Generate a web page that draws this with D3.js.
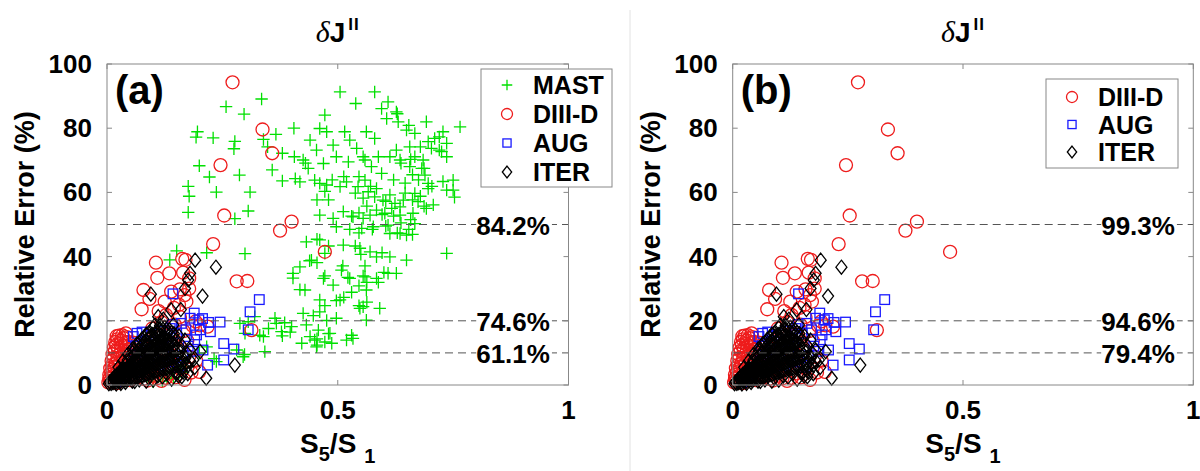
<!DOCTYPE html>
<html><head><meta charset="utf-8">
<script src="https://cdn.jsdelivr.net/npm/d3@7"></script>
<style>
body{margin:0;background:#fff}
svg{display:block}
text{font-family:"Liberation Sans",Arial,Helvetica,sans-serif;font-weight:bold;fill:#000}
</style>
</head><body>
<svg id="c" width="1200" height="471"></svg>
<script>
const categories = ["MAST","DIII-D","AUG","ITER"];
const mast = [
[0.335,89.1],[0.258,86.7],[0.297,84.4],[0.196,78.9],[0.193,77.2],[0.23,77],[0.277,75.9],[0.275,73.6],[0.339,76.5],[0.366,78.1],[0.405,80],
[0.348,74.2],[0.38,72.2],[0.406,71.1],[0.2,68.3],[0.222,64.8],[0.287,65.4],[0.358,67],[0.38,63.6],[0.408,64.3],[0.176,61.9],[0.176,53.8],
[0.237,60.1],[0.31,60.1],[0.306,54.2],[0.277,51.8],[0.151,41.8],[0.216,41.2],[0.299,40.9],[0.403,34.8],[0.403,33.3],[0.418,29.7],
[0.367,19.2],[0.35,17.6],[0.339,15.1],[0.32,21.3],[0.306,19.7],[0.288,19.2],[0.378,16.6],[0.4,18.2],[0.342,10.4],[0.295,8.8],[0.281,10.9],
[0.237,7.3],[0.216,11.9],[0.2,9.9],[0.172,5.7],[0.158,4.1],[0.144,2.1],[0.299,16.1],[0.136,39],[0.385,19.4],[0.364,20.8],[0.397,16.5],
[0.38,15.3],[0.331,15.5],[0.298,9.5],[0.232,8.2],[0.13,2],[0.12,1.2],[0.14,4.2],[0.16,6.2],[0.1,1],[0.178,58.8],
[0.505,91.3],[0.58,91.3],[0.539,87.7],[0.609,88.2],[0.595,86.1],[0.627,85.1],[0.472,84.1],[0.631,82],[0.606,83],[0.692,82],[0.765,80.4],
[0.461,79.9],[0.476,78.9],[0.515,78.9],[0.562,78.9],[0.58,76.8],[0.526,76.3],[0.649,79.4],[0.667,78.4],[0.728,78.9],[0.71,76.8],[0.696,75.8],
[0.736,75.3],[0.725,72.7],[0.703,73.7],[0.736,71.1],[0.44,76.3],[0.454,73.2],[0.49,74.7],[0.541,73.7],[0.497,71.1],[0.588,71.1],[0.627,73.2],
[0.656,74.2],[0.667,71.1],[0.685,70.1],[0.425,70.1],[0.436,67.5],[0.469,69],[0.523,69.5],[0.559,70.1],[0.573,68],[0.595,65.9],[0.635,70.1],
[0.656,68],[0.682,67.5],[0.689,65.4],[0.696,62.8],[0.736,60.7],[0.75,60.7],[0.75,63.8],[0.418,63.3],[0.45,63.8],[0.461,62.8],[0.476,62.3],
[0.505,61.8],[0.519,63.3],[0.544,61.8],[0.559,63.8],[0.566,60.2],[0.584,61.2],[0.58,58.6],[0.598,57.6],[0.613,59.2],[0.624,56.6],[0.635,55.5],
[0.642,57.6],[0.617,55],[0.667,59.7],[0.674,57.1],[0.696,61.2],[0.692,55],[0.707,56.1],[0.584,54.5],[0.602,53.5],[0.635,52.9],[0.663,53.5],
[0.57,52.9],[0.555,51.9],[0.533,52.4],[0.512,54],[0.49,51.9],[0.461,52.9],[0.497,49.3],[0.552,48.8],[0.577,49.3],[0.609,49.8],[0.635,47.2],
[0.649,46.7],[0.613,47.2],[0.667,50.3],[0.432,44.6],[0.461,45.2],[0.512,43.6],[0.548,42.6],[0.57,41.5],[0.584,39.9],[0.613,39.9],[0.736,41],
[0.649,38.9],[0.472,41],[0.443,38.9],[0.418,36.8],[0.508,35.8],[0.526,33.2],[0.559,33.7],[0.584,33.2],[0.609,34.8],[0.627,34.8],[0.469,33.2],
[0.49,31.1],[0.562,29.6],[0.429,29.6],[0.461,26.5],[0.505,26.5],[0.548,23.9],[0.555,24.4],[0.591,23.9],[0.425,22.3],[0.461,22.8],[0.497,20.8],
[0.562,20.2],[0.432,18.7],[0.458,17.1],[0.483,16.1],[0.45,14],[0.454,11.9],[0.533,14.5],[0.519,14],[0.44,15.1],[0.487,13],[0.422,13],
[0.629,84.5],[0.654,80.9],[0.72,77.3],[0.679,74.2],[0.72,73.2],[0.613,71.1],[0.637,69.1],[0.658,70.3],[0.687,67.5],[0.728,63.4],[0.753,58.5],
[0.43,69.1],[0.555,71.1],[0.546,64.9],[0.571,61.9],[0.621,63.9],[0.646,62.9],[0.662,65.5],[0.675,63.9],[0.704,61.9],[0.513,64.9],[0.488,63.9],
[0.472,60.3],[0.48,57.7],[0.455,57.7],[0.538,59.8],[0.555,58.2],[0.604,57.2],[0.646,59.8],[0.662,57.7],[0.679,58.8],[0.687,55.7],[0.563,55.7],
[0.546,53.6],[0.53,52.6],[0.596,53.1],[0.621,52.6],[0.604,49.5],[0.637,50.5],[0.658,51.5],[0.654,48.5],[0.629,47.4],[0.662,46.9],[0.575,48.5],
[0.526,48.5],[0.546,47.4],[0.455,45.4],[0.48,43.3],[0.538,43.3],[0.596,41.2],[0.55,40.7],[0.455,38.1],[0.439,38.7],[0.511,37.1],[0.559,37.1],
[0.6,35.1],[0.472,34],[0.522,33.5],[0.555,34],[0.563,32],[0.588,32],[0.546,30.9],[0.53,28.9],[0.513,27.3],[0.497,26.3],[0.472,24.7],[0.546,24.7],
[0.563,25.8],[0.447,21.6],[0.476,20.1],[0.455,14.4],[0.48,16],[0.472,13.4],[0.455,12.4],[0.53,15.5]
];
const diiid = [
[0.272,94.3],[0.337,79.6],[0.358,72.2],[0.246,68.5],[0.254,52.8],[0.375,48.1],[0.4,50.9],[0.472,41.5],[0.23,43.9],[0.281,32.3],[0.304,32.4],[0.313,17.1],
[0.106,38.1],[0.109,33.4],[0.135,34.8],[0.163,39.3],[0.17,39],[0.079,29.6],[0.075,23.6],[0.092,26.8],[0.139,29.1],[0.158,29.8],[0.178,33.2],[0.168,28],
[0.156,25],[0.2,4.1],[0.218,18.2],[0.186,18.4],
[0.003,0.8],[0.006,2.2],[0.009,4],[0.011,6.2],[0.014,8.4],[0.017,10.6],[0.02,12.4],[0.022,14.2],[0.026,15.4],[0.029,12.8],[0.031,10.9],[0.033,8.8],
[0.036,14.6],[0.039,12.1],[0.041,16.1],[0.043,9.8],[0.046,13.4],[0.048,7.4],[0.051,11.3],[0.019,6.8],[0.024,4.7],[0.028,6.6],[0.034,3.9],[0.013,2.8],
[0.039,2.6],[0.044,5.9],[0.054,9.2],[0.059,13.1],[0.064,6.1],[0.069,10.2],[0.074,12.3],[0.079,1.9],[0.088,1.4],[0.098,2.9],[0.108,2.1],[0.118,1.3],
[0.128,2.2],[0.138,3.6],[0.148,2.4],[0.158,5.1],[0.168,1.6],[0.183,3.9],[0.089,15.2],[0.098,17.6],[0.118,19.6],[0.128,21.8],[0.147,18.8],[0.158,21.2],
[0.138,15.8],[0.166,16.8],[0.174,13.8],[0.192,19.8],[0.201,18.6],[0.158,11.8],[0.178,8.8],[0.193,7.6],[0.008,1.2],[0.016,1.5],[0.021,0.6],[0.03,1.8],
[0.05,1.5],[0.06,3.2],[0.07,2.5],[0.085,4.5],[0.095,6],[0.105,7.8],[0.115,5],[0.125,11],[0.135,8],[0.145,13],[0.112,23],[0.125,26],[0.145,24],
[0.178,30],[0.172,26],[0.165,35],
[0.005,3.2],[0.007,5.2],[0.01,7.5],[0.012,9.6],[0.015,11.7],[0.018,13.4],[0.021,15.2],[0.024,11],[0.027,9.5],[0.03,13.9],[0.033,15.5],[0.037,10.7],
[0.04,13.3],[0.043,14.9],[0.047,10.9],[0.016,5.5],[0.023,8.3],[0.026,1.8],[0.035,6.2],[0.042,8],[0.005,1.8],[0.012,4.8]
];
const aug = [
[0.33,26.6],[0.31,22.8],[0.306,17.2],[0.245,19.6],[0.224,16.6],[0.207,20.7],[0.199,20.3],[0.189,22.4],[0.253,12.9],[0.275,11.2],[0.253,7.8],
[0.218,6.2],[0.208,10.9],[0.194,15.6],[0.143,28.4],[0.142,18.8],[0.065,16.1],[0.076,16.5],[0.104,13.5],[0.18,20.8],[0.171,17.2],[0.161,19.2],
[0.151,16.1],[0.137,17.6],[0.057,15.1],[0.062,12.2],[0.081,10.3],[0.091,8.1],[0.101,11.2],[0.112,6.1],[0.122,9.1],[0.132,12.2],[0.141,7.2],
[0.05,5.2],[0.04,3.1],[0.03,2.2],[0.071,4.1],[0.121,14.2],[0.165,9.1],[0.176,12.1],[0.19,14.1],[0.202,17.2],[0.22,19.5],[0.085,13.8],[0.095,15.5],
[0.115,16.8],[0.02,1],[0.06,7.5],[0.155,5.5],[0.185,10.5]
];
const iter = [
[0.191,38.9],[0.236,36.7],[0.18,34.8],[0.176,32.7],[0.169,30.1],[0.207,27.7],[0.095,28.3],[0.139,23.4],[0.111,21.3],[0.104,18.7],[0.144,18.7],
[0.277,6.2],[0.215,2.1],[0.162,2.6],[0.151,4.1],[0.187,7.8],[0.202,10.4],[0.18,10.9],[0.169,14],[0.122,20.5],[0.16,23.5],
[0.004,0.4],[0.006,0.9],[0.009,0.5],[0.011,1.6],[0.013,0.7],[0.016,1.9],[0.017,2.7],[0.019,0.9],[0.021,2.1],[0.022,3.3],[0.024,1.2],[0.026,2.5],
[0.027,3.9],[0.029,1.1],[0.031,2.7],[0.032,4.3],[0.033,5.1],[0.036,1.4],[0.037,3.1],[0.038,4.9],[0.041,1.6],[0.042,3.4],[0.043,5.3],[0.044,6.9],
[0.046,1.9],[0.047,3.9],[0.048,5.9],[0.051,2.1],[0.052,4.3],[0.053,6.5],[0.054,8.6],[0.056,2.3],[0.057,4.7],[0.058,7.1],[0.059,9.4],[0.061,2.5],
[0.062,5.1],[0.063,7.7],[0.064,10.3],[0.066,2.7],[0.067,5.5],[0.068,8.4],[0.069,11.1],[0.071,2.9],[0.072,5.9],[0.073,9],[0.074,12.1],[0.076,3.1],
[0.077,6.3],[0.078,9.6],[0.079,12.9],[0.081,3.2],[0.082,6.7],[0.083,10.2],[0.084,13.7],[0.086,3.4],[0.087,7.1],[0.088,10.7],[0.089,14.5],[0.091,3.6],
[0.092,7.4],[0.093,11.2],[0.094,15.1],[0.096,3.9],[0.097,7.8],[0.098,11.7],[0.099,15.7],[0.101,4.1],[0.102,8.1],[0.103,12.1],[0.104,16.1],[0.106,4.3],
[0.107,8.4],[0.108,12.5],[0.109,16.7],[0.111,4.5],[0.112,8.7],[0.113,12.8],[0.114,17.1],[0.116,4.7],[0.117,9.1],[0.118,13.2],[0.121,4.9],[0.122,9.3],
[0.123,13.5],[0.124,16.6],[0.126,5.1],[0.127,9.6],[0.128,13.7],[0.131,5.3],[0.132,9.8],[0.133,14.1],[0.136,5.5],[0.137,10.1],[0.141,5.7],[0.142,10.4],
[0.143,14.6],[0.146,5.9],[0.147,10.7],[0.152,6.1],[0.153,11.1],[0.161,4.6],[0.162,8.6],[0.163,12.1],[0.171,6.6],[0.172,10.1],[0.156,15.2],[0.135,17.2],
[0.125,18],[0.14,1.8],[0.12,2.5],[0.1,1.5],[0.085,1.2],[0.175,3.5],[0.19,5.5],
[0.025,5.5],[0.035,7.5],[0.045,9.5],[0.055,11.2],[0.065,12.8],[0.075,14.2],[0.085,15.8],[0.1,17.8],[0.115,18.5],
[0.012,1.1],[0.018,1.5],[0.023,2.2],[0.028,2.9],[0.034,3.6],[0.039,4.2],[0.045,4.6],[0.05,5.3],[0.055,5.9],[0.06,6.4],[0.065,7],[0.07,7.6],
[0.075,8.1],[0.08,8.6],[0.085,9.2],[0.09,9.6],[0.095,10.1],[0.1,10.5],[0.105,11],[0.11,11.4],[0.115,11.8],[0.12,12.1],[0.125,12.4],[0.13,12.6],
[0.135,12.9],[0.14,13.2],[0.145,12],[0.15,9],[0.155,8],[0.16,10.5],[0.165,7],[0.17,8.5],[0.175,6],[0.18,7.5],
[0.045,7.8],[0.05,8.9],[0.055,10],[0.06,11.2],[0.065,10],[0.07,13.2],[0.075,11],[0.08,14.8],[0.085,12.5],[0.09,16.2],[0.095,13.5],[0.1,14.5],
[0.105,14.2],[0.11,15.5],[0.115,15.3],[0.12,15],[0.125,14.9],[0.13,16],[0.14,16.4],[0.15,14],[0.145,16],
[0.03,3.4],[0.035,4.5],[0.04,2.5],[0.045,3],[0.05,3.5],[0.055,3.4],[0.06,3.9],[0.065,4.2],[0.07,4.4],[0.075,4.7],[0.08,5],[0.085,5.4],[0.09,5.6],
[0.095,5.9],[0.1,6.1],[0.105,6.4],[0.11,6.6],[0.115,7],[0.12,7.2],[0.125,7.5],[0.13,7.7],[0.135,8],[0.14,8.3],[0.145,8.5],[0.15,3.5],[0.155,2.8],
[0.16,6.5],[0.165,4],[0.13,3.5],[0.11,2.8],[0.09,2.2],[0.07,1.6],[0.055,1.2],[0.04,0.8],[0.02,0.3],[0.035,2.2],[0.03,0.5],[0.06,1.1]
];
const xTicks = [0, 0.5, 1];
const xTickLabels = ["0", "0.5", "1"];
const yTicks = [0, 20, 40, 60, 80, 100];
const yTickLabels = ["0", "20", "40", "60", "80", "100"];
const thresholds = [50, 20, 10];
const pctA = ["84.2%", "74.6%", "61.1%"];
const pctB = ["99.3%", "94.6%", "79.4%"];

const colors = {"MAST":"#00e000","DIII-D":"#ee1c1c","AUG":"#1a1aff","ITER":"#000000"};
const svg = d3.select("#c");

function marker(g, kind, cx, cy, scale) {
  const s = scale || 1;
  const c = colors[kind];
  const sw = 1.3;
  if (kind === "MAST") {
    const h = 6.2 * s;
    g.append("path").attr("d", `M${cx-h},${cy}H${cx+h}M${cx},${cy-h}V${cy+h}`)
      .attr("stroke", c).attr("stroke-width", sw).attr("fill", "none");
  } else if (kind === "DIII-D") {
    g.append("circle").attr("cx", cx).attr("cy", cy).attr("r", 6.5 * s)
      .attr("stroke", c).attr("stroke-width", sw).attr("fill", "none");
  } else if (kind === "AUG") {
    const h = 4.8 * s;
    g.append("rect").attr("x", cx-h).attr("y", cy-h).attr("width", 2*h).attr("height", 2*h)
      .attr("stroke", c).attr("stroke-width", sw).attr("fill", "none");
  } else {
    const w = 5.5 * s, hh = 7 * s;
    g.append("path").attr("d", `M${cx},${cy-hh}L${cx+w},${cy}L${cx},${cy+hh}L${cx-w},${cy}Z`)
      .attr("stroke", c).attr("stroke-width", sw).attr("fill", "none");
  }
}

function panel(opt) {
  const x = d3.scaleLinear().domain([0, 1]).range([opt.x0, opt.x1]);
  const y = d3.scaleLinear().domain([0, 100]).range([385, 64]);
  const g = svg.append("g");
  const cxm = (opt.x0 + opt.x1) / 2;

  // title
  const t = g.append("text").attr("x", cxm).attr("y", 42).attr("text-anchor", "middle");
  t.append("tspan").text("δ").attr("style", "font-family:'Liberation Serif','DejaVu Serif',serif;font-style:italic;font-weight:normal;font-size:30px");
  t.append("tspan").text("J").attr("style", "font-size:28px");
  t.append("tspan").text("II").attr("dy", -12).attr("dx", 3).attr("style", "font-size:17px;letter-spacing:1px");

  // points
  const series = opt.series;
  series.forEach(s => {
    const sg = g.append("g");
    s.data.forEach(d => marker(sg, s.name, x(d[0]), y(d[1])));
  });

  // threshold lines
  thresholds.forEach((v, i) => {
    g.append("line").attr("x1", x(0)).attr("x2", x(1)).attr("y1", y(v)).attr("y2", y(v))
      .attr("stroke", "#555").attr("stroke-width", 1).attr("stroke-dasharray", "8,5");
  });

  // box
  g.append("rect").attr("x", opt.x0).attr("y", 64).attr("width", opt.x1 - opt.x0).attr("height", 321)
    .attr("fill", "none").attr("stroke", "#888").attr("stroke-width", 1);
  const tl = 5;
  yTicks.forEach(v => {
    g.append("line").attr("x1", opt.x0).attr("x2", opt.x0 + tl).attr("y1", y(v)).attr("y2", y(v)).attr("stroke", "#888");
    g.append("line").attr("x1", opt.x1).attr("x2", opt.x1 - tl).attr("y1", y(v)).attr("y2", y(v)).attr("stroke", "#888");
  });
  xTicks.forEach(v => {
    g.append("line").attr("x1", x(v)).attr("x2", x(v)).attr("y1", 385).attr("y2", 385 - tl).attr("stroke", "#888");
    g.append("line").attr("x1", x(v)).attr("x2", x(v)).attr("y1", 64).attr("y2", 64 + tl).attr("stroke", "#888");
  });
  yTicks.forEach((v, i) => {
    g.append("text").attr("x", opt.x0 - 15).attr("y", y(v) + 9).attr("text-anchor", "end")
      .style("font-size", "26px").text(yTickLabels[i]);
  });
  xTicks.forEach((v, i) => {
    g.append("text").attr("x", x(v)).attr("y", 419).attr("text-anchor", "middle")
      .style("font-size", "26px").text(xTickLabels[i]);
  });

  // percent labels
  thresholds.forEach((v, i) => {
    const tx = g.append("text").attr("x", x(0.8)).attr("y", y(v) + 10)
      .style("font-size", "26px").text(opt.pct[i]);
    const bb = tx.node().getBBox();
    g.insert("rect", () => tx.node()).attr("x", bb.x).attr("y", y(v) - 4).attr("width", bb.width + 2).attr("height", 8).attr("fill", "#fff");
  });

  // axis titles
  g.append("text").attr("transform", `translate(${opt.x0 - 73},${(64 + 385) / 2}) rotate(-90)`)
    .attr("text-anchor", "middle").style("font-size", "27px").text("Relative Error (%)");
  const xl = g.append("text").attr("x", cxm).attr("y", 453).attr("text-anchor", "middle").style("font-size", "28px");
  xl.append("tspan").text("S");
  xl.append("tspan").text("5").attr("dy", 8).style("font-size", "20px");
  xl.append("tspan").text("/S").attr("dy", -8);
  xl.append("tspan").text("1").attr("dy", 10).attr("dx", 8).style("font-size", "20px");

  // panel letter
  g.append("text").attr("x", opt.x0 + 8).attr("y", 104).style("font-size", "40px").text(opt.letter);

  // legend
  const L = opt.legend;
  g.append("rect").attr("x", L.x).attr("y", L.y).attr("width", L.w).attr("height", L.h)
    .attr("fill", "#fff").attr("stroke", "#888").attr("stroke-width", 1);
  series.forEach((s, i) => {
    const cy = L.y0 + i * L.dy;
    marker(g, s.name, L.x + L.mx, cy, 0.85);
    g.append("text").attr("x", L.x + L.tx).attr("y", cy + 9).style("font-size", "25px").text(s.name);
  });
}

// separator
svg.append("line").attr("x1", 630).attr("x2", 630).attr("y1", 10).attr("y2", 471).attr("stroke", "#e2e2e2").attr("stroke-width", 1);

panel({
  x0: 107, x1: 568.5, letter: "(a)", pct: pctA,
  series: [
    {name: categories[0], data: mast},
    {name: categories[1], data: diiid},
    {name: categories[2], data: aug},
    {name: categories[3], data: iter}
  ],
  legend: {x: 481, y: 69, w: 131, h: 118, y0: 85, dy: 29, mx: 26, tx: 52}
});
panel({
  x0: 732.7, x1: 1193.3, letter: "(b)", pct: pctB,
  series: [
    {name: categories[1], data: diiid},
    {name: categories[2], data: aug},
    {name: categories[3], data: iter}
  ],
  legend: {x: 1046, y: 79, w: 132, h: 89, y0: 97, dy: 27.5, mx: 26, tx: 52}
});
</script>
</body></html>
